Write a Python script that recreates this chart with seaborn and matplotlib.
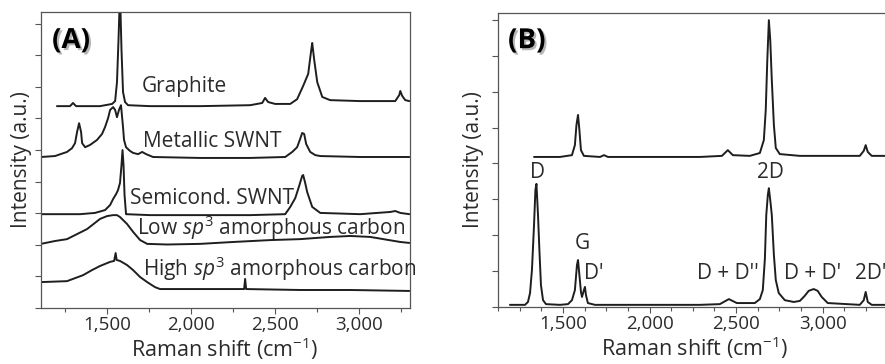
import numpy as np
import pandas as pd
import matplotlib
matplotlib.use("Agg")
import matplotlib.pyplot as plt
import matplotlib.patheffects as pe
from matplotlib.ticker import MultipleLocator, NullFormatter, FuncFormatter
import seaborn as sns

sns.set_theme(style="white")
plt.rcParams['font.family'] = ['Open Sans', 'DejaVu Sans']
plt.rcParams['mathtext.fontset'] = 'custom'
plt.rcParams['mathtext.rm'] = 'Open Sans'
plt.rcParams['mathtext.it'] = 'Open Sans:italic'

# ---------------- Panel A data (Raman shift cm-1, intensity a.u., offset stacked) -------------
graphite_x = [1200, 1278, 1296, 1314, 1457, 1529, 1547, 1558, 1567, 1576, 1585, 1594, 1606, 1624,
              1755, 2054, 2352, 2424, 2441, 2459, 2501, 2591, 2632, 2668, 2698, 2716, 2722, 2734,
              2752, 2782, 2829, 3008, 3217, 3241, 3247, 3259, 3277, 3301]
graphite_y = [6.39, 6.39, 6.49, 6.39, 6.39, 6.46, 6.55, 7.15, 8.48, 10.0, 8.16, 6.84, 6.52, 6.42,
              6.39, 6.39, 6.42, 6.49, 6.65, 6.52, 6.46, 6.46, 6.61, 7.03, 7.41, 8.16, 8.39, 7.85,
              7.15, 6.68, 6.58, 6.55, 6.55, 6.74, 6.87, 6.71, 6.58, 6.55]

metallic_x = [1105, 1188, 1260, 1290, 1308, 1320, 1332, 1344, 1350, 1368, 1397, 1439, 1469, 1487,
              1505, 1517, 1535, 1547, 1558, 1570, 1582, 1594, 1600, 1612, 1636, 1654, 1684, 1708,
              1732, 1773, 2054, 2352, 2561, 2603, 2632, 2650, 2662, 2674, 2686, 2710, 2740, 2770,
              3008, 3301]
metallic_y = [4.78, 4.81, 4.94, 5.06, 5.22, 5.57, 5.85, 5.57, 5.22, 5.09, 5.16, 5.32, 5.51, 5.73,
              6.01, 6.27, 6.36, 6.27, 6.04, 6.27, 6.42, 5.73, 5.32, 5.09, 4.97, 4.91, 4.87, 4.94,
              4.87, 4.78, 4.75, 4.75, 4.78, 4.94, 5.09, 5.35, 5.54, 5.51, 5.19, 4.94, 4.84, 4.81,
              4.78, 4.78]

semicond_x = [1105, 1338, 1427, 1487, 1517, 1535, 1553, 1564, 1576, 1585, 1591, 1597, 1603, 1612,
              1755, 2054, 2352, 2561, 2591, 2621, 2644, 2662, 2668, 2680, 2692, 2722, 2770, 3008,
              3187, 3217, 3247, 3301]
semicond_y = [2.97, 2.97, 3.01, 3.10, 3.26, 3.45, 3.61, 3.73, 3.96, 4.53, 5.00, 4.53, 3.58, 2.97,
              2.94, 2.94, 2.94, 2.97, 3.20, 3.48, 3.86, 4.18, 4.21, 3.96, 3.67, 3.20, 3.01, 2.97,
              3.04, 3.07, 3.01, 2.97]

low_sp3_x = [1105, 1188, 1260, 1320, 1380, 1457, 1499, 1535, 1558, 1576, 1618, 1654, 1696, 1738,
             1857, 2054, 2251, 2472, 2650, 2829, 2949, 3068, 3146, 3247, 3301]
low_sp3_y = [2.03, 2.12, 2.18, 2.34, 2.50, 2.82, 2.91, 2.94, 2.94, 2.88, 2.66, 2.41, 2.15, 2.03,
             2.01, 2.03, 2.09, 2.15, 2.18, 2.25, 2.28, 2.25, 2.18, 2.09, 2.06]

high_sp3_x = [1105, 1260, 1356, 1409, 1457, 1517, 1541, 1550, 1556, 1576, 1618, 1654, 1696, 1738,
              1785, 1815, 2054, 2316, 2322, 2328, 2650, 2949, 3301]
high_sp3_y = [0.82, 0.85, 1.04, 1.20, 1.33, 1.46, 1.49, 1.74, 1.52, 1.49, 1.36, 1.20, 0.98, 0.82,
              0.66, 0.60, 0.60, 0.60, 0.92, 0.60, 0.57, 0.57, 0.54]

labels_a = ["Graphite", "Metallic SWNT", "Semicond. SWNT",
            r"Low $\mathit{sp}^3$ amorphous carbon", r"High $\mathit{sp}^3$ amorphous carbon"]
label_a_x = [1708, 1714, 1636, 1678, 1714]
label_a_y = [6.84, 5.09, 3.29, 2.31, 1.01]

# ---------------- Panel B data ----------------
top_b_x = [1333, 1483, 1552, 1569, 1578, 1587, 1595, 1604, 1621, 1714, 1737, 1760, 2002, 2291,
           2418, 2452, 2481, 2579, 2637, 2660, 2671, 2680, 2689, 2697, 2706, 2718, 2729, 2752,
           2868, 3214, 3237, 3248, 3260, 3283, 3358]
top_b_y = [4.18, 4.18, 4.23, 4.51, 5.07, 5.35, 4.93, 4.37, 4.21, 4.18, 4.23, 4.18, 4.18, 4.18,
           4.21, 4.37, 4.23, 4.21, 4.29, 4.65, 5.49, 6.88, 7.99, 7.44, 6.32, 5.07, 4.43, 4.26,
           4.21, 4.21, 4.35, 4.51, 4.32, 4.21, 4.21]

bot_b_x = [1194, 1281, 1298, 1310, 1321, 1333, 1341, 1347, 1356, 1364, 1373, 1385, 1402, 1483,
           1529, 1552, 1569, 1581, 1587, 1595, 1604, 1610, 1621, 1627, 1633, 1644, 1685, 2002,
           2291, 2406, 2458, 2504, 2608, 2637, 2654, 2666, 2674, 2683, 2689, 2697, 2706, 2718,
           2729, 2746, 2781, 2833, 2868, 2896, 2919, 2948, 2971, 2994, 3029, 3214, 3237, 3248,
           3260, 3283, 3358]
bot_b_y = [0.06, 0.06, 0.14, 0.39, 1.03, 2.28, 3.26, 3.43, 2.56, 1.59, 0.61, 0.19, 0.08, 0.06,
           0.08, 0.19, 0.47, 1.17, 1.31, 0.89, 0.42, 0.28, 0.47, 0.56, 0.33, 0.11, 0.06, 0.06,
           0.06, 0.08, 0.22, 0.11, 0.11, 0.22, 0.47, 1.34, 2.56, 3.12, 3.31, 2.98, 2.56, 1.45,
           0.75, 0.39, 0.19, 0.14, 0.17, 0.31, 0.45, 0.50, 0.45, 0.28, 0.11, 0.06, 0.19, 0.42,
           0.14, 0.06, 0.06]

labels_b = ["D", "2D", "G", "D'", "D + D''", "D + D'", "2D'"]
label_b_x = [1310, 2619, 1569, 1621, 2273, 2775, 3185]
label_b_y = [3.59, 3.59, 1.62, 0.78, 0.78, 0.78, 0.78]

W, H = 885, 364
fig = plt.figure(figsize=(W / 100, H / 100), dpi=100)
fig.patch.set_facecolor("white")

line_col = "#1e1e1e"
txt_col = "#2b2b2b"
spine_col = "#555555"

def px_axes(l, t, r, b):
    return fig.add_axes([l / W, 1 - b / H, (r - l) / W, (b - t) / H])

axA = px_axes(41, 12, 410, 308)
axB = px_axes(498, 13, 892, 307)

for xs, ys in [(graphite_x, graphite_y), (metallic_x, metallic_y), (semicond_x, semicond_y),
               (low_sp3_x, low_sp3_y), (high_sp3_x, high_sp3_y)]:
    sns.lineplot(x=xs, y=ys, ax=axA, color=line_col, lw=1.4, estimator=None, sort=False)
for xs, ys in [(top_b_x, top_b_y), (bot_b_x, bot_b_y)]:
    sns.lineplot(x=xs, y=ys, ax=axB, color=line_col, lw=1.4, estimator=None, sort=False)

axA.set_xlim(1105, 3305)
axA.set_ylim(0, 9.37)
axB.set_xlim(1125, 3400)
axB.set_ylim(0, 8.19)

for ax, minor in [(axA, 250), (axB, 125)]:
    ax.set_facecolor("white")
    ax.xaxis.set_major_locator(MultipleLocator(500))
    ax.xaxis.set_minor_locator(MultipleLocator(minor))
    ax.yaxis.set_major_locator(MultipleLocator(1))
    ax.yaxis.set_major_formatter(NullFormatter())
    ax.xaxis.set_major_formatter(FuncFormatter(lambda v, p: f"{int(v):,}"))
    ax.tick_params(axis="both", which="major", direction="out", length=4, width=0.8,
                   color=spine_col, labelsize=13.5, labelcolor=txt_col, pad=1.5,
                   bottom=True, left=True)
    ax.tick_params(axis="x", which="minor", direction="out", length=3, width=0.8,
                   color=spine_col, bottom=True)
    for s in ax.spines.values():
        s.set_color(spine_col)
        s.set_linewidth(0.9)
    ax.set_xlabel("")
    ax.set_ylabel("")
    ax.grid(False)

for t, x, y in zip(labels_a, label_a_x, label_a_y):
    axA.text(x, y, t, fontsize=15, color=txt_col, ha="left", va="baseline")
for t, x, y in zip(labels_b, label_b_x, label_b_y):
    axB.text(x, y, t, fontsize=15, color=txt_col, ha="left", va="baseline", clip_on=False)

shadow = [pe.withSimplePatchShadow(offset=(1.5, -1.5), shadow_rgbFace="#888888", alpha=0.6)]
axA.text(1171, 8.23, "(A)", fontsize=20, fontweight="bold", color="black",
         ha="left", va="baseline", path_effects=shadow)
axB.text(1183, 7.21, "(B)", fontsize=20, fontweight="bold", color="black",
         ha="left", va="baseline", path_effects=shadow)

for cx in [22, 474]:
    fig.text(cx / W, 1 - 160 / H, "Intensity (a.u.)", rotation=90, ha="center", va="center",
             fontsize=15, color=txt_col)
for cx, by in [(225, 357), (695, 356)]:
    fig.text(cx / W, 1 - by / H, "Raman shift (cm$^{-1}$)", ha="center", va="baseline",
             fontsize=15.5, color=txt_col)

fig.savefig("out.png", dpi=100)
